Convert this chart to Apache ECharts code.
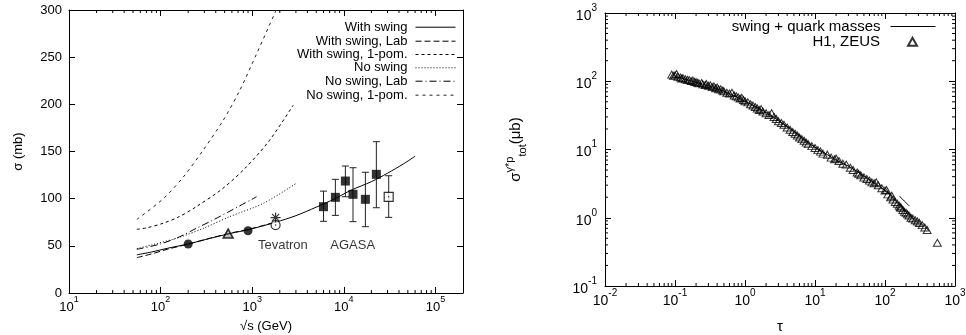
<!DOCTYPE html>
<html><head><meta charset="utf-8">
<script src="https://cdn.jsdelivr.net/npm/echarts@6/dist/echarts.min.js"></script>
<style>html,body{margin:0;padding:0;background:#fff}#c{width:966px;height:335px}</style>
</head><body><div id="c"></div>
<script>
// ================= LEFT PANEL DATA (x = sqrt(s) in GeV, y = sigma in mb) =================
const withSwing     = [[55,40.5],[80,43.5],[120,47.5],[200,52],[350,58],[600,63.5],[900,67],[1800,75],[3000,82],[5000,91],[8000,100],[12000,109],[20000,118],[30000,127],[45000,137],[60000,145]];
const withSwingLab  = [[55,37.5],[80,41.5],[120,46.5],[200,51.8],[350,58.2],[600,63.8],[1000,68.5],[1800,75.2]];
const withSwing1pom = [[55,67.5],[70,69],[107,74],[160,81],[245,91.5],[480,111],[870,134],[1550,162],[2800,199]];
const noSwing       = [[55,47],[80,51],[160,59],[300,69],[570,81],[1320,95],[3000,116]];
const noSwingLab    = [[55,46.3],[100,52],[162,59.7],[250,69],[375,77.4],[1115,102]];
const noSwing1pom   = [[55,78],[107,100],[177,123],[292,151.6],[482,183],[733,215],[1122,254],[1762,296.5],[1850,301]];
const ppbarFilledCircle = [[200,52],[900,66]];
const ppbarTriangle     = [[546,63]];
const tevatronOpenCircle = [[1800,72]];
const tevatronStar       = [[1800,80]];
// [x, y, errLow, errHigh]
const agasaSquares = [[6000,91.5,76,108],[8090,101.4,82.3,120.5],[10400,118.7,102,134.6],[12600,104.6,75.6,132.8],[17200,99.3,70.3,128],[22650,125.8,90.4,160.4]];
const openSquare   = [[30900,102,80.2,124.3]];
const annotations  = [[2160,50,'Tevatron'],[12500,50,'AGASA']];
const leftNames = ['With swing','With swing, Lab','With swing, 1-pom.','No swing','No swing, Lab','No swing, 1-pom.'];

// ================= RIGHT PANEL DATA (x = tau, y = sigma gamma*p in micro-barn) =================
const swingQuarkMasses  = [[0.1,118],[0.15,105],[0.2,96],[0.3,86],[0.5,71],[0.7,61],[1,51],[1.5,41],[2,35],[3,26.5],[5,18.5],[7,14],[10,10.8],[15,8.4],[20,7.0],[30,5.7],[50,4.1],[70,3.25],[100,2.5],[120,2.2]];
const swingQuarkMasses2 = [[160,2.08],[222,1.49]];
const h1zeus = [[0.09,125],[0.095,120],[0.1,122],[0.105,128],[0.11,116],[0.12,113],[0.125,110],[0.13,111],[0.14,107],[0.15,105],[0.16,104],[0.17,101],[0.18,102],[0.19,98],[0.2,97],[0.21,95],[0.22,93],[0.24,94],[0.25,90],[0.27,88],[0.28,91],[0.3,86],[0.32,87],[0.34,82],[0.36,84],[0.38,79],[0.4,81],[0.42,76],[0.45,76],[0.48,73],[0.5,71],[0.55,68],[0.6,66],[0.65,68],[0.7,62],[0.75,60],[0.8,58],[0.85,56],[0.9,57],[0.95,53],[1.0,51],[1.1,49],[1.2,46],[1.3,44],[1.4,42],[1.5,40],[1.6,38],[1.7,39],[1.8,36],[2.0,34],[2.2,32],[2.4,34],[2.6,30],[2.8,28],[3.0,26],[3.3,24.5],[3.6,23],[4.0,21],[4.4,19.5],[4.8,18],[5.2,17],[5.6,16],[6.0,15],[6.5,14.2],[7.0,13.4],[7.5,12.6],[8.0,12],[9.0,11.2],[10,10.5],[11,9.8],[12,9.3],[13,8.7],[15,8.4],[17,7.6],[19,7.2],[20,7.4],[22,6.8],[25,6.2],[28,6.0],[32,5.4],[35,5.0],[40,4.6],[42,4.4],[45,4.2],[50,3.9],[55,3.7],[60,3.5],[65,3.3],[70,3.2],[75,3.3],[80,3.0],[90,2.7],[100,2.5],[105,2.55],[110,2.2],[120,2.0],[125,2.1],[130,1.85],[140,1.7],[150,1.6],[160,1.5],[165,1.42],[170,1.4],[180,1.3],[190,1.22],[200,1.18],[210,1.12],[220,1.08],[235,1.0],[250,0.97],[270,0.92],[290,0.88],[310,0.84],[340,0.78],[370,0.72],[400,0.66],[560,0.43]];
const rightNames = ['swing + quark masses','H1, ZEUS'];

// ================= helpers =================
const FF = 'Liberation Sans, Arial, Helvetica, sans-serif';
function pow10Label(v){
  const e = Math.log10(v), r = Math.round(e);
  if (Math.abs(e - r) > 1e-6) return '';
  return '{b|10}{s|' + r + '}';
}
function minorList(lo, hi){ // 2..9 x 10^k between lo and hi (tick decoration positions)
  const out = [];
  for (let k = Math.round(Math.log10(lo)); k < Math.round(Math.log10(hi)); k++)
    for (let m = 2; m <= 9; m++){ const v = m * Math.pow(10,k); if (v > lo && v < hi) out.push(v); }
  return out;
}
const black = '#000';
function logXAxis(grid, min, max, pos, showLabel, fs, ss, name, gap, nfs){
  return {gridIndex:grid, type:'log', min:min, max:max, position:pos,
    axisLine:{show:true, onZero:false, lineStyle:{color:black, width:1}},
    axisTick:{show:true, inside:true, length:6, lineStyle:{color:black, width:1}},
    axisLabel:{show:showLabel, formatter:pow10Label, margin:2, color:black,
      rich:{b:{fontSize:fs, fontFamily:FF, color:black, lineHeight:fs+6, verticalAlign:'bottom'},
            s:{fontSize:ss, fontFamily:FF, color:black, lineHeight:fs+6, verticalAlign:'top'}}},
    splitLine:{show:false}, minorTick:{show:false},
    name: name || '', nameLocation:'middle', nameGap:gap || 0,
    nameTextStyle:{fontSize:nfs || 13, fontFamily:FF, color:black}};
}
function tickRender(kind, lo, hi, len){
  return function(params, api){
    const v = api.value(0);
    let a, b, sh1, sh2;
    if (kind === 'x'){
      a = api.coord([v, lo]); b = api.coord([v, hi]);
      sh1 = {x1:a[0], y1:a[1], x2:a[0], y2:a[1]-len};
      sh2 = {x1:b[0], y1:b[1], x2:b[0], y2:b[1]+len};
    } else {
      a = api.coord([lo, v]); b = api.coord([hi, v]);
      sh1 = {x1:a[0], y1:a[1], x2:a[0]+len, y2:a[1]};
      sh2 = {x1:b[0], y1:b[1], x2:b[0]-len, y2:b[1]};
    }
    return {type:'group', children:[
      {type:'line', shape:sh1, style:{stroke:black, lineWidth:1}},
      {type:'line', shape:sh2, style:{stroke:black, lineWidth:1}}]};
  };
}
function errRender(params, api){
  const x = api.value(0), lo = api.value(2), hi = api.value(3);
  const p1 = api.coord([x, lo]), p2 = api.coord([x, hi]);
  const w = 3.5, st = {stroke:'#222', lineWidth:1};
  return {type:'group', children:[
    {type:'line', shape:{x1:p1[0], y1:p1[1], x2:p2[0], y2:p2[1]}, style:st},
    {type:'line', shape:{x1:p1[0]-w, y1:p1[1], x2:p1[0]+w, y2:p1[1]}, style:st},
    {type:'line', shape:{x1:p2[0]-w, y1:p2[1], x2:p2[0]+w, y2:p2[1]}, style:st}]};
}
function curve(name, data, dash, xi, yi, color){
  return {name:name, type:'line', data:data, xAxisIndex:xi, yAxisIndex:yi, symbol:'none', smooth:0.3,
    lineStyle:{color:color || black, width:1, type:dash}, itemStyle:{color:color || black}, z:3};
}

const chart = echarts.init(document.getElementById('c'), null, {renderer:'canvas'});
const leftTops = [28.7, 42.7, 56, 69.3, 82.7, 96.7];
const rightTops = [28, 43.3];
const legends = leftNames.map((n,i)=>({data:[n], right:510, top:leftTops[i]-8, orient:'vertical', align:'right',
    itemWidth:40, itemHeight:10, padding:0, selectedMode:false,
    itemStyle:{opacity:0}, lineStyle:{width:1},
    textStyle:{fontSize:13, fontFamily:FF, color:black, padding:[0,3,0,0]}}));
legends.push({data:[rightNames[0]], right:30, top:rightTops[0]-9, orient:'vertical', align:'right',
    itemWidth:45, itemHeight:8, padding:0, selectedMode:false,
    itemStyle:{opacity:0}, lineStyle:{width:1},
    textStyle:{fontSize:15, fontFamily:FF, color:black, padding:[0,5,0,0]}});
legends.push({data:[rightNames[1]], right:48, top:rightTops[1]-9, orient:'vertical', align:'right',
    itemWidth:9, itemHeight:8, padding:0, selectedMode:false,
    textStyle:{fontSize:15, fontFamily:FF, color:black, padding:[0,23,0,0]}});

const option = {
  backgroundColor:'#fff', animation:false,
  grid:[{left:69, top:10, width:394, height:283, outerBoundsMode:'none', containLabel:false},
        {left:605, top:13, width:350, height:273, outerBoundsMode:'none', containLabel:false}],
  legend: legends,
  xAxis:[
    logXAxis(0, 10, 200000, 'bottom', true, 13, 9, '√s (GeV)', 27, 13),
    logXAxis(0, 10, 200000, 'top', false, 13, 9),
    logXAxis(1, 0.01, 1000, 'bottom', true, 14, 10, 'τ', 33, 15),
    logXAxis(1, 0.01, 1000, 'top', false, 14, 10)
  ],
  yAxis:[
    {gridIndex:0, type:'value', min:0, max:300, interval:50, position:'left',
     axisLine:{show:true, onZero:false, lineStyle:{color:black, width:1}},
     axisTick:{inside:true, length:6, lineStyle:{color:black}},
     axisLabel:{margin:7, color:black, fontSize:13, fontFamily:FF}, splitLine:{show:false},
     name:'σ (mb)', nameLocation:'middle', nameGap:44, nameRotate:90,
     nameTextStyle:{fontSize:13, fontFamily:FF, color:black}},
    {gridIndex:0, type:'value', min:0, max:300, interval:50, position:'right',
     axisLine:{show:true, onZero:false, lineStyle:{color:black, width:1}},
     axisTick:{inside:true, length:6, lineStyle:{color:black}},
     axisLabel:{show:false}, splitLine:{show:false}},
    Object.assign(logXAxis(1, 0.1, 1000, 'left', true, 14, 10), {
      axisLabel:{show:true, formatter:pow10Label, margin:8, color:black, align:'right',
        rich:{b:{fontSize:14, fontFamily:FF, color:black, lineHeight:20, verticalAlign:'bottom'},
              s:{fontSize:10, fontFamily:FF, color:black, lineHeight:20, verticalAlign:'top'}}},
      name:'{a|σ}{sup|γ*p}{sub|tot}{a|(μb)}', nameLocation:'middle', nameGap:77, nameRotate:90,
      nameTextStyle:{fontFamily:FF, color:black, rich:{
        a:{fontSize:15, fontFamily:FF, color:black, lineHeight:24, verticalAlign:'middle'},
        sup:{fontSize:11, fontFamily:FF, color:black, lineHeight:24, verticalAlign:'top'},
        sub:{fontSize:11, fontFamily:FF, color:black, lineHeight:24, verticalAlign:'bottom'}}}}),
    logXAxis(1, 0.1, 1000, 'right', false, 14, 10)
  ],
  series:[
    curve(leftNames[0], withSwing, 'solid', 0, 0),
    curve(leftNames[1], withSwingLab, [6,3], 0, 0),
    curve(leftNames[2], withSwing1pom, [3,3], 0, 0),
    curve(leftNames[3], noSwing, [1,2], 0, 0),
    curve(leftNames[4], noSwingLab, [7,3,1,3], 0, 0),
    curve(leftNames[5], noSwing1pom, [3,4], 0, 0, '#222'),
    {name:'err', type:'custom', xAxisIndex:0, yAxisIndex:0, renderItem:errRender, data:agasaSquares.concat(openSquare), z:4, silent:true},
    {name:'ppbar', type:'scatter', xAxisIndex:0, yAxisIndex:0, data:ppbarFilledCircle, symbol:'circle', symbolSize:9, itemStyle:{color:black}, z:5},
    {name:'ua4', type:'scatter', xAxisIndex:0, yAxisIndex:0, data:ppbarTriangle, symbol:'triangle', symbolSize:[10,9], itemStyle:{color:'rgba(120,120,120,0.6)', borderColor:black, borderWidth:1.5}, z:5},
    {name:'tevO', type:'scatter', xAxisIndex:0, yAxisIndex:0, data:tevatronOpenCircle, symbol:'circle', symbolSize:9, itemStyle:{color:'#fff', borderColor:black, borderWidth:1.2}, z:5},
    {name:'tevStar', type:'scatter', xAxisIndex:0, yAxisIndex:0, data:tevatronStar, symbol:'path://M0,-5L0,5M-5,0L5,0M-3.6,-3.6L3.6,3.6M-3.6,3.6L3.6,-3.6', symbolSize:10, itemStyle:{color:'rgba(0,0,0,0)', borderColor:black, borderWidth:1.2}, z:5},
    {name:'agasa', type:'scatter', xAxisIndex:0, yAxisIndex:0, data:agasaSquares, symbol:'rect', symbolSize:9, itemStyle:{color:black}, z:5},
    {name:'openSq', type:'scatter', xAxisIndex:0, yAxisIndex:0, data:openSquare, symbol:'rect', symbolSize:9, itemStyle:{color:'#fff', borderColor:black, borderWidth:1.2}, z:5},
    {name:'openDots', type:'scatter', xAxisIndex:0, yAxisIndex:0, data:openSquare.concat(tevatronOpenCircle), symbol:'circle', symbolSize:1.5, itemStyle:{color:black}, z:6},
    {name:'annot', type:'scatter', xAxisIndex:0, yAxisIndex:0, data:annotations, symbolSize:0,
     label:{show:true, position:'inside', formatter:p=>p.data[2], fontSize:13, fontFamily:FF, color:black}, z:6},
    {name:'minorX0', type:'custom', xAxisIndex:0, yAxisIndex:0, renderItem:tickRender('x', 0, 300, 3), data:minorList(10,200000).map(v=>[v,0]), silent:true, z:2},
    // right panel
    curve(rightNames[0], swingQuarkMasses, 'solid', 2, 2),
    curve('swing + quark masses (high τ)', swingQuarkMasses2, 'solid', 2, 2),
    {name:rightNames[1], type:'scatter', xAxisIndex:2, yAxisIndex:2, data:h1zeus, symbol:'triangle', symbolSize:[8,7],
     itemStyle:{color:'rgba(0,0,0,0)', borderColor:black, borderWidth:1}, z:4},
    {name:'minorX2', type:'custom', xAxisIndex:2, yAxisIndex:2, renderItem:tickRender('x', 0.1, 1000, 3), data:minorList(0.01,1000).map(v=>[v,1]), silent:true, z:2},
    {name:'minorY2', type:'custom', xAxisIndex:2, yAxisIndex:2, renderItem:tickRender('y', 0.01, 1000, 3), data:minorList(0.1,1000).map(v=>[v,1]), silent:true, z:2}
  ]
};
chart.setOption(option);
</script></body></html>
